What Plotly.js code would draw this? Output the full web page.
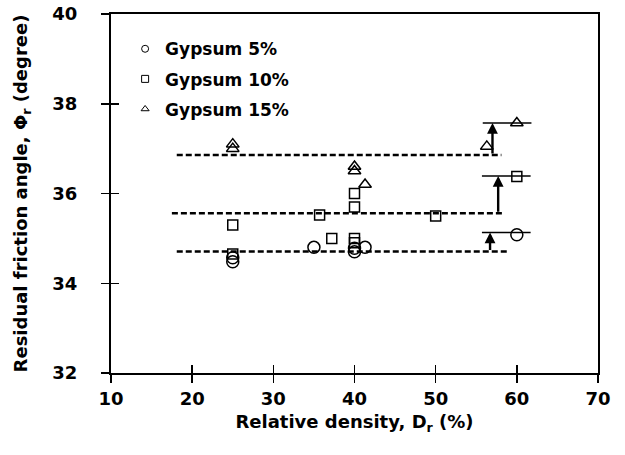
<!DOCTYPE html>
<html>
<head>
<meta charset="utf-8">
<script src="https://cdn.plot.ly/plotly-3.0.1.min.js"></script>
<style>html,body{margin:0;padding:0;background:#fff;}#chart{width:625px;height:455px;}</style>
</head>
<body>
<div id="chart"></div>
<script>
// Data
const gyp5X  = [25, 25, 35, 40, 40, 41.3, 60];
const gyp5Y  = [34.57, 34.48, 34.8, 34.78, 34.7, 34.8, 35.08];
const gyp10X = [25, 25, 35.7, 37.2, 40, 40, 40, 40, 50, 60];
const gyp10Y = [35.3, 34.65, 35.52, 35.0, 36.0, 35.7, 35.0, 34.9, 35.5, 36.38];
const gyp15X = [25, 25, 40, 40, 41.3, 56.3, 60];
const gyp15Y = [37.1, 37.0, 36.6, 36.5, 36.2, 37.05, 37.57];

// Mean levels (dashed) and shifted levels (solid)
const dashStartX = [18.1, 17.5, 18.1];
const dashEndX   = [58.1, 58.5, 58.9];
const dashY      = [36.86, 35.56, 34.71];
const solidStartX = [55.8, 55.7, 55.7];
const solidEndX   = [61.8, 61.7, 61.7];
const solidY      = [37.57, 36.39, 35.13];
const arrowX      = [57.0, 57.7, 56.7];

const seriesNames = ['Gypsum 5%', 'Gypsum 10%', 'Gypsum 15%'];
const xTicks = [10, 20, 30, 40, 50, 60, 70];
const yTicks = [32, 34, 36, 38, 40];

const FONT = 'DejaVu Sans, Arial, sans-serif';
const traces = [];

const pts = [[gyp5X, gyp5Y, 'circle-open', 12], [gyp10X, gyp10Y, 'square-open', 10], [gyp15X, gyp15Y, 'triangle-up-open', 11]];
pts.forEach((p, i) => {
  traces.push({x: p[0], y: p[1], mode: 'markers', type: 'scatter', showlegend: false,
    marker: {symbol: p[2], size: p[3], color: '#000', line: {width: 1.5, color: '#000'}}});
});
// legend entries with small symbols
pts.forEach((p, i) => {
  traces.push({x: [null], y: [null], mode: 'markers', type: 'scatter', name: '<b>' + seriesNames[i] + '</b>',
    legendgroup: 'g' + i, marker: {symbol: p[2], size: 7, color: '#000', line: {width: 1, color: '#000'}}});
});
for (let i = 0; i < dashY.length; i++) {
  traces.push({x: [dashStartX[i], dashEndX[i]], y: [dashY[i], dashY[i]], mode: 'lines', type: 'scatter', showlegend: false,
    line: {color: '#000', width: 2.5, dash: '6px,3px'}});
  traces.push({x: [solidStartX[i], solidEndX[i]], y: [solidY[i], solidY[i]], mode: 'lines', type: 'scatter', showlegend: false,
    line: {color: '#000', width: 1.5}});
}
// invisible trace on overlay axes to show the inner tick halves
traces.push({x: [null], y: [null], xaxis: 'x2', yaxis: 'y2', type: 'scatter', showlegend: false, hoverinfo: 'skip'});

const annotations = [];
for (let i = 0; i < dashY.length; i++) {
  annotations.push({x: arrowX[i], y: solidY[i], ax: arrowX[i], ay: dashY[i], xref: 'x', yref: 'y', axref: 'x', ayref: 'y',
    showarrow: true, arrowhead: 2, arrowsize: 0.9, arrowwidth: 2.4, arrowcolor: '#000', text: '', standoff: 0});
}

const axisCommon = {showgrid: false, zeroline: false, showline: true, linecolor: '#000', linewidth: 2,
  ticks: 'outside', ticklen: 8, tickwidth: 1.5, tickcolor: '#000', mirror: true,
  tickfont: {family: FONT, size: 18, color: '#000', weight: 'bold'}};

const layout = {
  width: 625, height: 455,
  margin: {l: 111, r: 27, t: 14, b: 82},
  paper_bgcolor: '#fff', plot_bgcolor: '#fff',
  font: {family: FONT, color: '#000'},
  showlegend: true,
  legend: {x: 0.029, y: 0.952, xanchor: 'left', yanchor: 'top', bgcolor: 'rgba(0,0,0,0)',
    font: {family: FONT, size: 17, color: '#000'}, traceorder: 'grouped', tracegroupgap: 5},
  xaxis: Object.assign({}, axisCommon, {range: [10, 70], tickvals: xTicks, ticktext: xTicks.map(String),
    title: {text: '<b>Relative density, D<sub>r</sub> (%)</b>', font: {family: FONT, size: 18, color: '#000'}, standoff: 8}}),
  yaxis: Object.assign({}, axisCommon, {range: [32, 40], tickvals: yTicks, ticktext: yTicks.map(String),
    ticklabelstandoff: 20,
    title: {text: '<b>Residual friction angle, Φ<sub>r</sub> (degree)</b>', font: {family: FONT, size: 18, color: '#000'}, standoff: 20}}),
  xaxis2: {overlaying: 'x', range: [10, 70], tickvals: xTicks, showticklabels: false, ticks: 'inside', ticklen: 8, tickwidth: 1.5, tickcolor: '#000', showgrid: false, zeroline: false, showline: false},
  yaxis2: {overlaying: 'y', range: [32, 40], tickvals: yTicks, showticklabels: false, ticks: 'inside', ticklen: 8, tickwidth: 1.5, tickcolor: '#000', showgrid: false, zeroline: false, showline: false},
  annotations: annotations
};

Plotly.newPlot('chart', traces, layout, {displayModeBar: false, staticPlot: true});
</script>
</body>
</html>
